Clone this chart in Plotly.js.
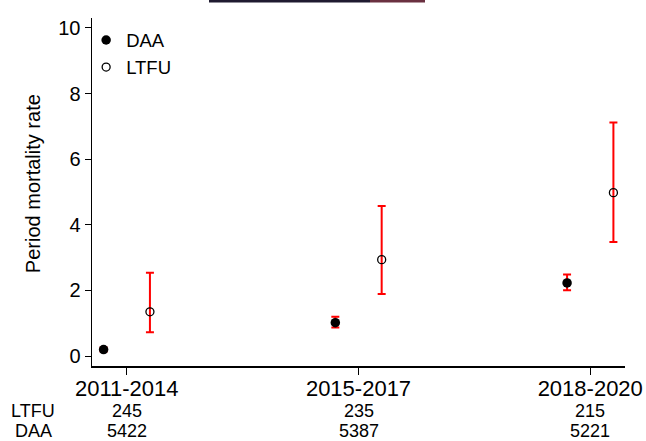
<!DOCTYPE html>
<html>
<head>
<meta charset="utf-8">
<script src="https://cdn.plot.ly/plotly-3.0.1.min.js"></script>
<style>html,body{margin:0;padding:0;background:#fff;}#chart{width:646px;height:441px;}</style>
</head>
<body>
<div id="chart"></div>
<script>
var periods = ["2011-2014", "2015-2017", "2018-2020"];
var daaRate = [0.2, 1.02, 2.23];
var daaLower = [0.14, 0.87, 2.01];
var daaUpper = [0.26, 1.2, 2.49];
var ltfuRate = [1.35, 2.94, 4.98];
var ltfuLower = [0.73, 1.89, 3.48];
var ltfuUpper = [2.54, 4.57, 7.12];
var ltfuN = ["245", "235", "215"];
var daaN = ["5422", "5387", "5221"];
var offset = 0.1;

var idx = periods.map(function(_, i){ return i; });
function errs(rate, lo, hi){
  return {type:'data', symmetric:false,
    array: rate.map(function(v,i){return hi[i]-v;}),
    arrayminus: rate.map(function(v,i){return v-lo[i];}),
    color:'#ff0000', thickness:2, width:4};
}
var font = 'Liberation Sans, Arial, sans-serif';
var traces = [
  {x: idx.map(function(i){return i-offset;}), y: daaRate, name:'DAA', mode:'markers', type:'scatter',
   marker:{symbol:'circle', size:9.5, color:'#000'}, error_y: errs(daaRate, daaLower, daaUpper)},
  {x: idx.map(function(i){return i+offset;}), y: ltfuRate, name:'LTFU', mode:'markers', type:'scatter',
   marker:{symbol:'circle-open', size:8, color:'#000', line:{width:1.3}}, error_y: errs(ltfuRate, ltfuLower, ltfuUpper)}
];
var annotations = [];
annotations.push({xref:'paper', yref:'paper', x:-0.11, y:-0.129, text:'LTFU', showarrow:false, font:{family:font,size:18,color:'#000'}, xanchor:'center', yanchor:'middle'});
annotations.push({xref:'paper', yref:'paper', x:-0.11, y:-0.187, text:'DAA', showarrow:false, font:{family:font,size:18,color:'#000'}, xanchor:'center', yanchor:'middle'});
idx.forEach(function(i){
  annotations.push({xref:'x', yref:'paper', x:i, y:-0.129, text:ltfuN[i], showarrow:false, font:{family:font,size:18,color:'#000'}, xanchor:'center', yanchor:'middle'});
  annotations.push({xref:'x', yref:'paper', x:i, y:-0.187, text:daaN[i], showarrow:false, font:{family:font,size:18,color:'#000'}, xanchor:'center', yanchor:'middle'});
});
annotations.push({xref:'paper', yref:'paper', x:-0.111, y:0.525, text:'Period mortality rate', textangle:-90, showarrow:false, font:{family:font,size:20,color:'#000'}, xanchor:'center', yanchor:'middle'});

var layout = {
  width:646, height:441,
  margin:{l:92, r:21, t:18, b:75},
  paper_bgcolor:'#fff', plot_bgcolor:'#fff',
  font:{family:font, color:'#000'},
  showlegend:true,
  legend:{x:-0.011, y:0.99, xanchor:'left', yanchor:'top', font:{family:font,size:18.5,color:'#000'}, bgcolor:'rgba(0,0,0,0)', itemwidth:30, tracegroupgap:0},
  xaxis:{range:[-0.15,2.15], tickmode:'array', tickvals:idx, ticktext:periods, showgrid:false, zeroline:false,
    showline:true, linecolor:'#000', linewidth:1.5, ticks:'outside', ticklen:7, tickcolor:'#000',
    ticklabelstandoff:-5,
    tickfont:{family:font,size:22,color:'#000'}},
  yaxis:{range:[-0.3,10.3], tickvals:[0,2,4,6,8,10], showgrid:false, zeroline:false,
    showline:true, linecolor:'#000', linewidth:1.5, ticks:'outside', ticklen:6, tickcolor:'#000',
    tickfont:{family:font,size:20,color:'#000'}},
  annotations: annotations,
  shapes:[
    {type:'rect', xref:'paper', yref:'paper', x0:(209-92)/533, x1:(370-92)/533, y0:(366-0)/348, y1:(366-2.5)/348, fillcolor:'#1f1a30', line:{width:0}, layer:'above'},
    {type:'rect', xref:'paper', yref:'paper', x0:(370-92)/533, x1:(425-92)/533, y0:(366-0)/348, y1:(366-2.5)/348, fillcolor:'#6a3040', line:{width:0}, layer:'above'}
  ]
};
Plotly.newPlot('chart', traces, layout, {displayModeBar:false, staticPlot:true});
</script>
</body>
</html>
